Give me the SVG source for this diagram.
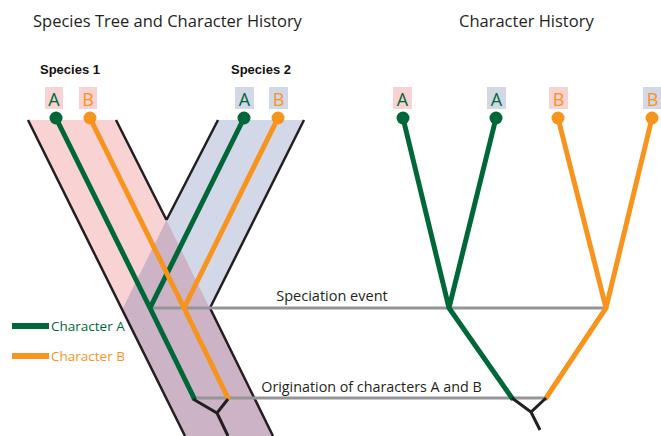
<svg xmlns="http://www.w3.org/2000/svg" width="661" height="436" viewBox="0 0 661 436">
<style>
.t{font-family:"Open Sans","Liberation Sans",sans-serif;fill:#231f20}
.sp{font-family:"Liberation Sans",Arial,sans-serif;font-weight:bold;font-size:13px;fill:#111;text-anchor:middle}
.lt{font-family:"Open Sans","Liberation Sans",sans-serif;font-size:18px;text-anchor:middle}
.ga{fill:#006838}.ob{fill:#f7941d}
.edge{stroke:#231f20;stroke-width:2.5;fill:none}
.g{stroke:#006838;stroke-width:5;fill:none;stroke-linecap:round}
.o{stroke:#f7941d;stroke-width:5;fill:none;stroke-linecap:round}
.k{stroke:#231f20;stroke-width:3;fill:none}
.gr{stroke:#939598;stroke-width:3;fill:none}
.pk{fill:#f9d2d4}.bl{fill:#d3d8e8}.pu{fill:#cdb3c6}
</style>
<text class="t" x="33" y="27" font-size="16.5">Species Tree and Character History</text>
<text class="t" x="459" y="27" font-size="16.5">Character History</text>

<g id="bands">
<polygon class="pk" points="28,120 116,120 209.5,308 121.5,308"/>
<polygon class="bl" points="218,120 304,120 210,308 124,308"/>
<polygon class="pu" points="166.5,220 209.5,308 273,436 185,436 121.5,308 123,308"/>
<path class="edge" d="M28,120 L185,436 M116,120 L166.5,220 M218,120 L166.5,220 M304,120 L210,308 L273,436"/>
</g>

<g id="species1">
<text class="sp" x="70" y="74">Species 1</text>
<rect class="pk" x="45" y="87" width="18" height="22"/>
<text class="lt ga" x="54" y="106">A</text>
<rect class="pk" x="79" y="87" width="18" height="22"/>
<text class="lt ob" x="88" y="106">B</text>
</g>
<g id="species2">
<text class="sp" x="261" y="74">Species 2</text>
<rect class="bl" x="235" y="87" width="19" height="22"/>
<text class="lt ga" x="244.5" y="106">A</text>
<rect class="bl" x="269" y="87" width="19" height="22"/>
<text class="lt ob" x="278.5" y="106">B</text>
</g>

<g id="right-labels">
<rect class="pk" x="393" y="87" width="19" height="22"/>
<text class="lt ga" x="402.5" y="106">A</text>
<rect class="bl" x="487" y="87" width="19" height="22"/>
<text class="lt ga" x="496.5" y="106">A</text>
<rect class="pk" x="549" y="87" width="19" height="22"/>
<text class="lt ob" x="558.5" y="106">B</text>
<rect class="bl" x="643" y="87" width="19" height="22"/>
<text class="lt ob" x="652.5" y="106">B</text>
</g>

<g id="connectors">
<line class="gr" x1="150" y1="308" x2="607" y2="308"/>
<line class="gr" x1="191" y1="398" x2="546" y2="398"/>
<path class="g" d="M56,118 L150,308 L194,398 M244,118 L150,308"/>
<path class="o" d="M90,118 L184,308 L228,398 M278,118 L184,308"/>
<path class="k" d="M193,399 L217,413 L228,399 M217,413 L228,436"/>
<path class="g" d="M403,118 L449,308 L512,398 M496,118 L449,308"/>
<path class="o" d="M558,118 L606,308 L546,398 M652,118 L606,308"/>
<path class="k" d="M512,398 L531,412 L546,398 M531,412 L540,430"/>
</g>

<g id="dots">
<circle class="ga" cx="56" cy="118" r="6.5"/>
<circle class="ob" cx="90" cy="118" r="6.5"/>
<circle class="ga" cx="244" cy="118" r="6.5"/>
<circle class="ob" cx="278" cy="118" r="6.5"/>
<circle class="ga" cx="403" cy="118" r="6.5"/>
<circle class="ga" cx="496" cy="118" r="6.5"/>
<circle class="ob" cx="558" cy="118" r="6.5"/>
<circle class="ob" cx="652" cy="118" r="6.5"/>
</g>

<g id="event-labels">
<text class="t" x="332" y="301" font-size="14.5" text-anchor="middle">Speciation event</text>
<text class="t" x="371.5" y="392" font-size="14.3" text-anchor="middle">Origination of characters A and B</text>
</g>

<g id="legend">
<line x1="12" y1="326" x2="49" y2="326" stroke="#006838" stroke-width="6"/>
<text class="t ga" x="51" y="331" font-size="13.5">Character A</text>
<line x1="12" y1="356" x2="49" y2="356" stroke="#f7941d" stroke-width="6"/>
<text class="t ob" x="51" y="361" font-size="13.5">Character B</text>
</g>
</svg>
